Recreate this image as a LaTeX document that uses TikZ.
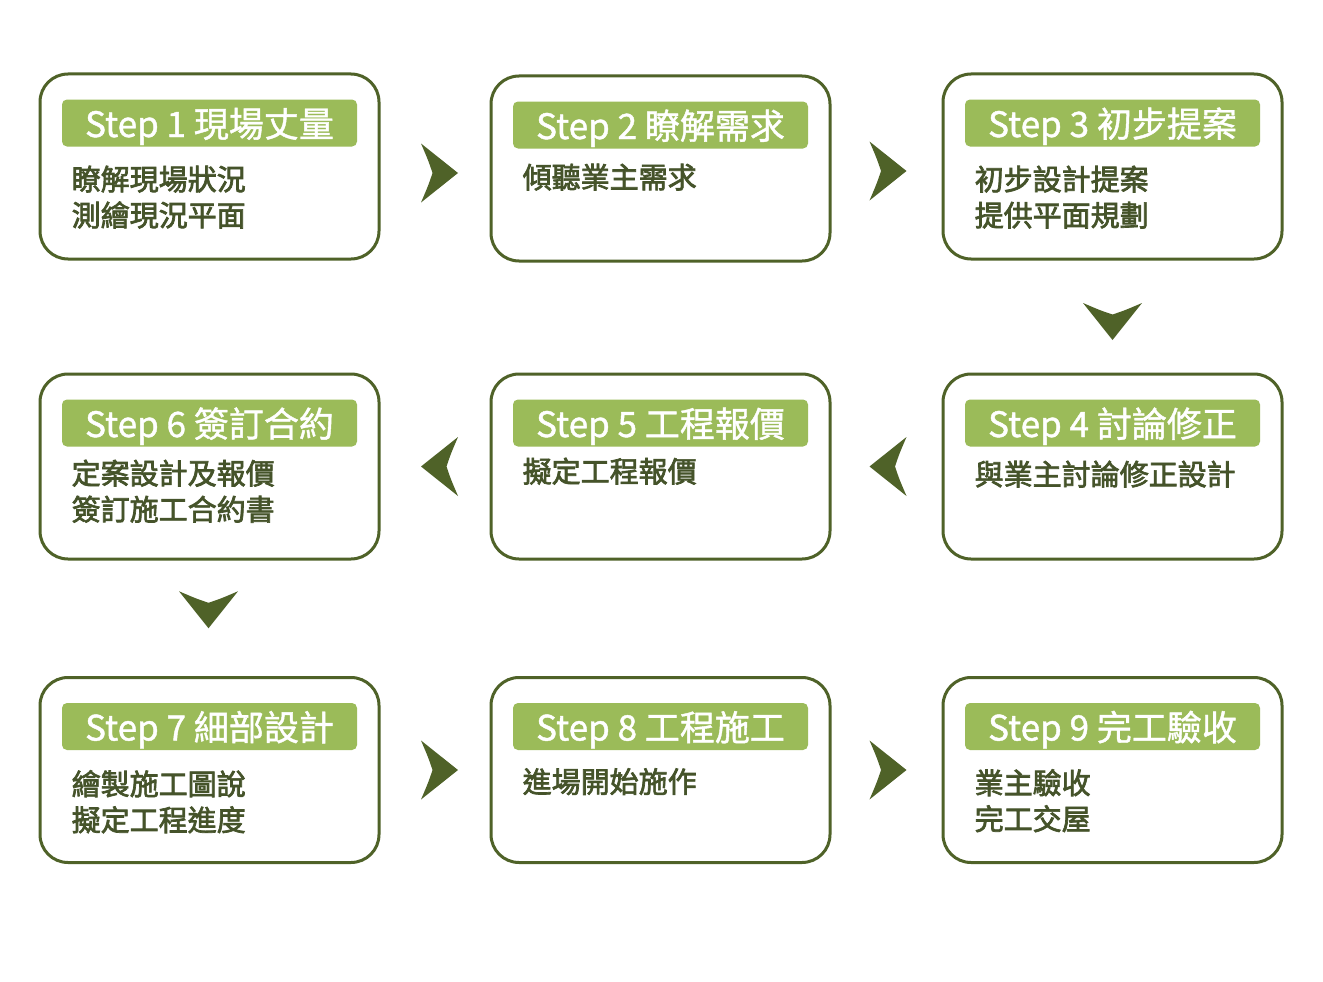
\documentclass[tikz,border=0pt]{standalone}
\usepackage{fontspec}
\setmainfont{Noto Sans CJK TC}
\newfontfamily\bnrfont{Noto Sans CJK TC}[FakeBold=1.2]
\newfontfamily\bdyfont{Noto Sans CJK TC}[FakeBold=2.4]
\usetikzlibrary{calc}
\definecolor{olv}{HTML}{4F6228}
\definecolor{grn}{HTML}{9BBB59}
\definecolor{txt}{HTML}{45532A}
\definecolor{arr}{HTML}{4F6228}
\tikzset{
  box/.style={draw=olv, line width=3pt, rounded corners=28pt, minimum width=339pt, minimum height=185pt, fill=white, inner sep=0pt},
  banner/.style={fill=grn, rounded corners=5pt, minimum width=295pt, minimum height=47pt, text=white, font=\bnrfont\fontsize{35}{35}\selectfont, inner sep=0pt, text height=30pt, text depth=2pt},
  body/.style={anchor=north west, align=left, text=txt, font=\bdyfont\fontsize{29}{36}\selectfont, inner sep=0pt},
  chevfill/.style={fill=arr}
}
\newcommand\chev[2]{%
  \fill[chevfill, shift={#1}, rotate=#2] (18.5,0) -- (-18.5,-29.5) .. controls (-11,-12) .. (-7,0) .. controls (-11,12) .. (-18.5,29.5) -- cycle;}
\newcommand\stepbox[5]{% name, center, title, body, bodyoffset
  \node[box] (#1) at #2 {};
  \node[banner] (#1t) at ($(#1.north)+(0,50.5)$) {#3};
  \node[body] (#1b) at ($(#1.north west)+(33,#5)$) {#4};
}
\begin{document}
\begin{tikzpicture}[x=1pt,y=-1pt]
\useasboundingbox (0,0) rectangle (1323,982);
\fill[white] (0,0) rectangle (1323,982);
\stepbox{b1}{(209.5,166.5)}{Step 1 現場丈量}{瞭解現場狀況\\測繪現況平面}{93}
\stepbox{b2}{(660.5,168.5)}{Step 2 瞭解需求}{傾聽業主需求}{89}
\stepbox{b3}{(1112.5,166.5)}{Step 3 初步提案}{初步設計提案\\提供平面規劃}{93}
\stepbox{b6}{(209.5,466.5)}{Step 6 簽訂合約}{定案設計及報價\\簽訂施工合約書}{87}
\stepbox{b5}{(660.5,466.5)}{Step 5 工程報價}{擬定工程報價}{85}
\stepbox{b4}{(1112.5,466.5)}{Step 4 討論修正}{與業主討論修正設計}{88}
\stepbox{b7}{(209.5,770)}{Step 7 細部設計}{繪製施工圖說\\擬定工程進度}{94}
\stepbox{b8}{(660.5,770)}{Step 8 工程施工}{進場開始施作}{92}
\stepbox{b9}{(1112.5,770)}{Step 9 完工驗收}{業主驗收\\完工交屋}{93}
% connectors
\chev{($(b1.east)!0.5!(b2.west)+(4.5,5.5)$)}{0}
\chev{($(b2.east)!0.5!(b3.west)+(1.5,3.5)$)}{0}
\chev{($(b3.south)!0.5!(b4.north)+(0,5)$)}{-90}
\chev{($(b4.west)!0.5!(b5.east)+(1.5,0)$)}{180}
\chev{($(b5.west)!0.5!(b6.east)+(4.5,0)$)}{180}
\chev{($(b6.south)!0.5!(b7.north)+(-1,-8.5)$)}{-90}
\chev{($(b7.east)!0.5!(b8.west)+(4.5,0)$)}{0}
\chev{($(b8.east)!0.5!(b9.west)+(1.5,0)$)}{0}
\end{tikzpicture}
\end{document}
